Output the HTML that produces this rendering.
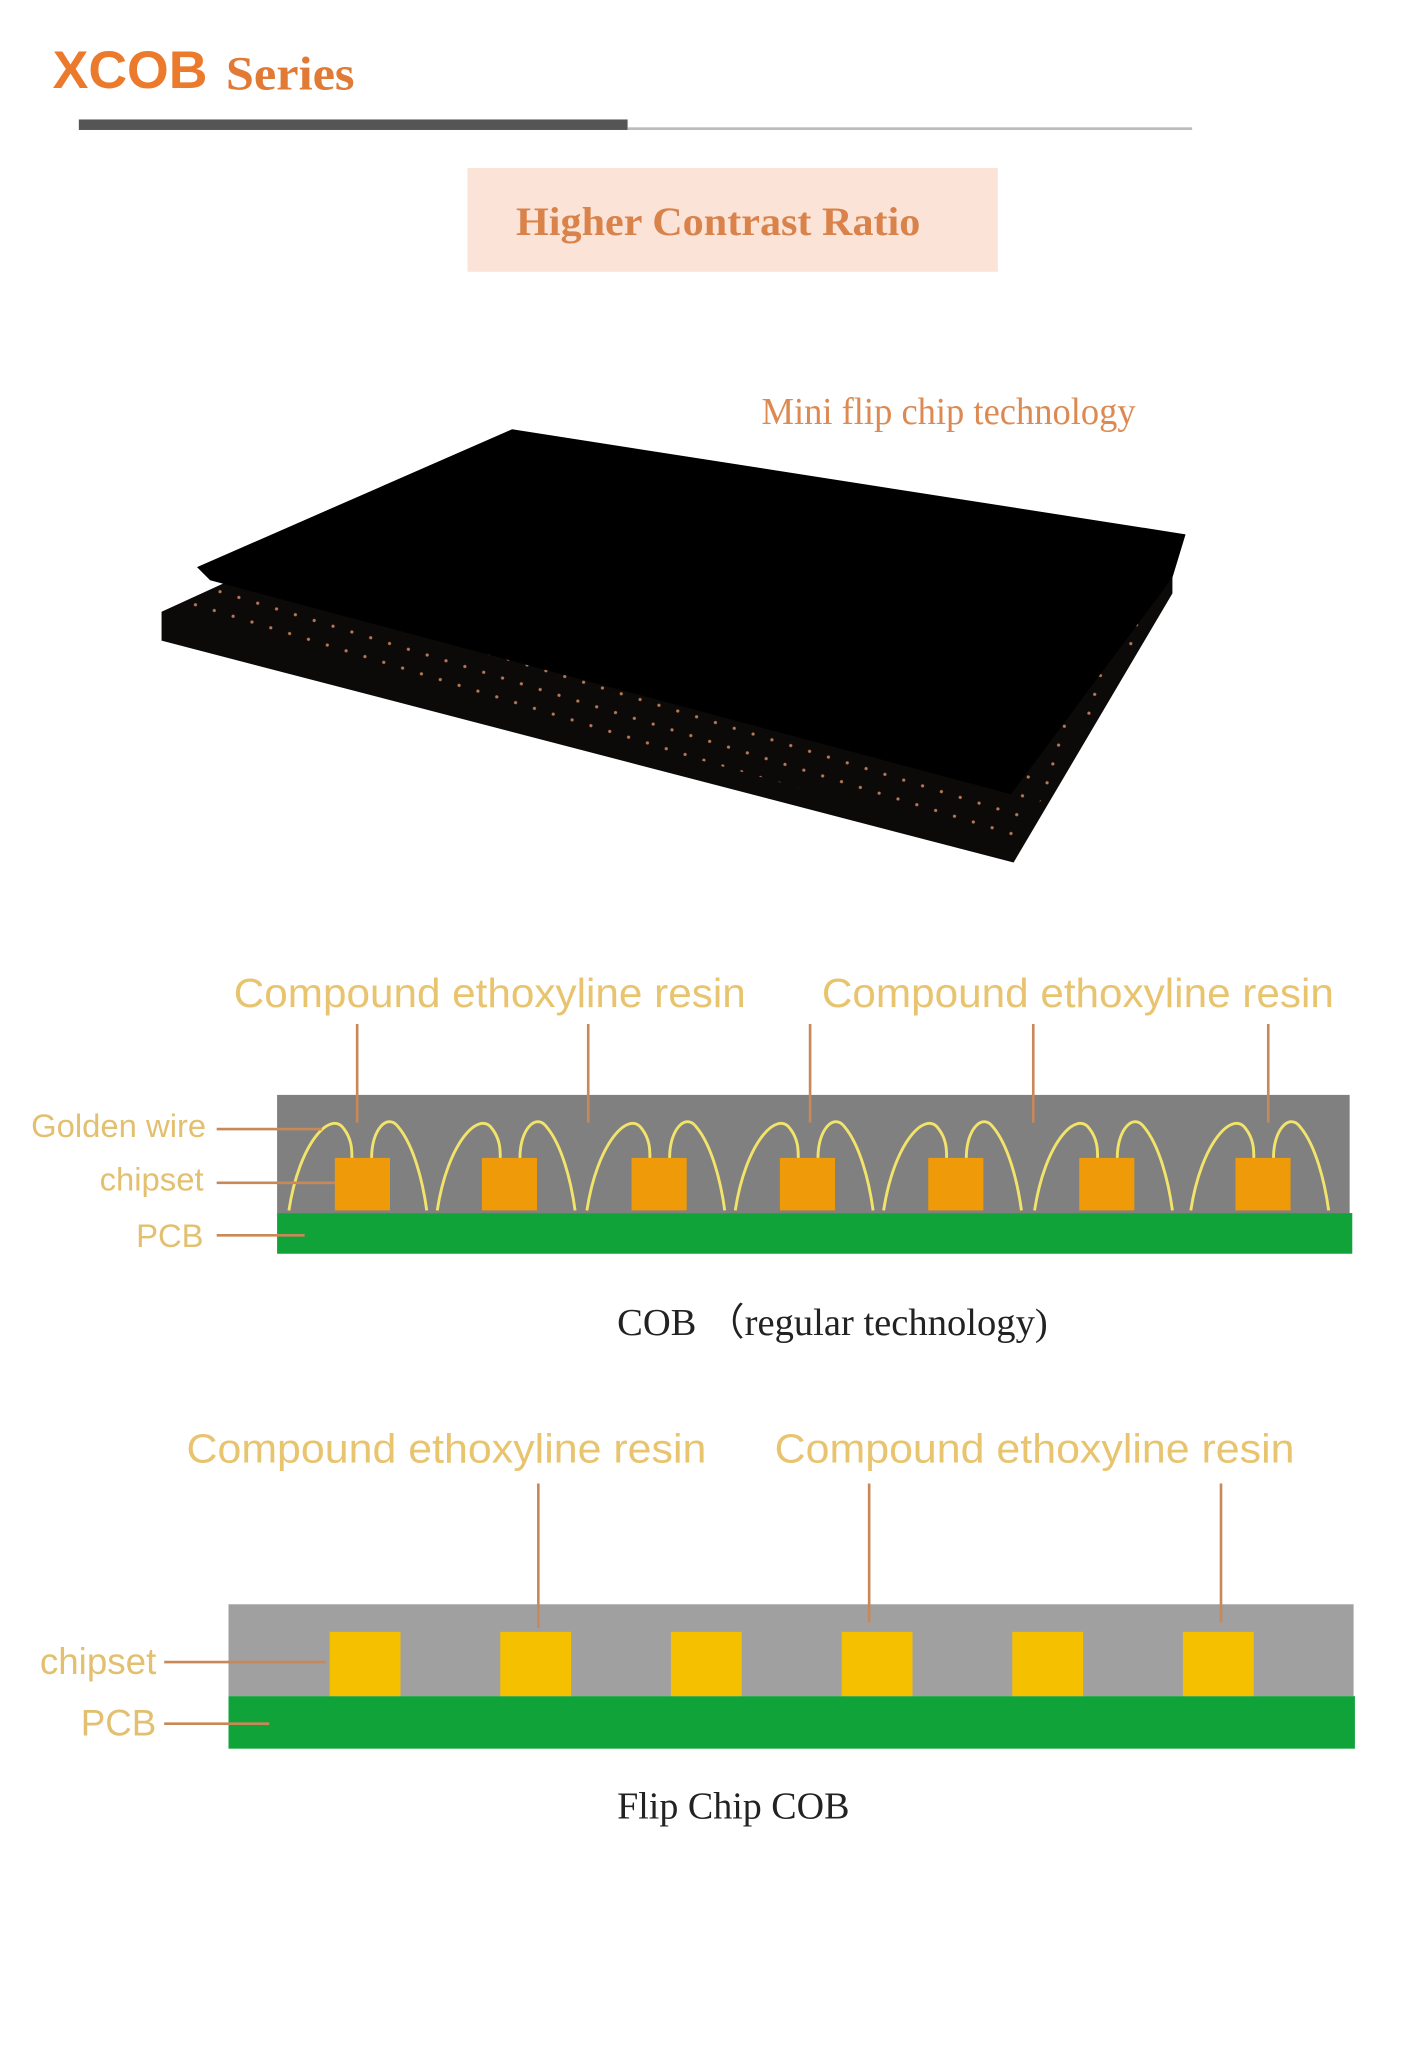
<!DOCTYPE html>
<html><head><meta charset="utf-8"><style>html,body{margin:0;padding:0;background:#fff}svg{display:block}</style></head>
<body>
<svg width="1418" height="2048" viewBox="0 0 1080 1560" xmlns="http://www.w3.org/2000/svg">
<defs>
<pattern id="dots" width="15" height="15" patternUnits="userSpaceOnUse" patternTransform="rotate(17)">
<circle cx="7" cy="7" r="1.2" fill="#b87a55"/>
</pattern>
</defs>
<rect width="1080" height="1560" fill="#fff"/>
<text x="40" y="67" font-family="Liberation Sans, sans-serif" font-weight="bold" font-size="40" fill="#ec7a2c" textLength="118" lengthAdjust="spacingAndGlyphs">XCOB</text>
<text x="172" y="68" font-family="Liberation Serif, serif" font-weight="bold" font-size="36" fill="#e07a35" textLength="98" lengthAdjust="spacingAndGlyphs">Series</text>
<rect x="60" y="91" width="418" height="8" fill="#555"/>
<rect x="478" y="97" width="430" height="2" fill="#bbb"/>
<rect x="356" y="128" width="404" height="79" fill="#fbe3d7"/>
<text x="393" y="179" font-family="Liberation Serif, serif" font-weight="bold" font-size="31" fill="#d9834b" textLength="308" lengthAdjust="spacingAndGlyphs">Higher Contrast Ratio</text>
<text x="580" y="323" font-family="Liberation Serif, serif" font-size="29" fill="#dc8a52" textLength="285" lengthAdjust="spacingAndGlyphs">Mini flip chip technology</text>
<!-- panel -->
<polygon points="123,466 372,352 893,440 893,452 772,657 123,488" fill="#0c0909"/>
<polygon points="123,466 372,352 893,440 772,645" fill="url(#dots)"/>
<polygon points="150,432 390,327 903,407 893,440 770,605 160,442" fill="#000"/>
<!-- COB regular -->
<g font-family="Liberation Sans, sans-serif" font-size="31" fill="#e9c46f">
<text x="178" y="767" textLength="390" lengthAdjust="spacingAndGlyphs">Compound ethoxyline resin</text>
<text x="626" y="767" textLength="390" lengthAdjust="spacingAndGlyphs">Compound ethoxyline resin</text>
<text x="157" y="866" text-anchor="end" font-size="25" fill="#e2c070">Golden wire</text>
<text x="155" y="907" text-anchor="end" font-size="25" fill="#e2c070">chipset</text>
<text x="155" y="950" text-anchor="end" font-size="25" fill="#e2c070">PCB</text>
</g>
<rect x="211" y="834" width="817" height="90" fill="#808080"/>
<rect x="211" y="924" width="819" height="31" fill="#10a33a"/>
<g fill="#ef9a08">
<rect x="255" y="882" width="42" height="40"/><rect x="367" y="882" width="42" height="40"/><rect x="481" y="882" width="42" height="40"/><rect x="594" y="882" width="42" height="40"/><rect x="707" y="882" width="42" height="40"/><rect x="822" y="882" width="42" height="40"/><rect x="941" y="882" width="42" height="40"/>
</g>
<g fill="none" stroke="#f2e46a" stroke-width="2.2">
<path id="w" d="M220,922 C228,870 252,845 262,860 C268,868 268,876 268,882 M283,882 C283,860 295,848 303,858 C315,872 322,900 325,922"/>
<use href="#w" x="113"/><use href="#w" x="227"/><use href="#w" x="340"/><use href="#w" x="453"/><use href="#w" x="568"/><use href="#w" x="687"/>
</g>
<g stroke="#c98858" stroke-width="2">
<line x1="272" y1="780" x2="272" y2="855"/><line x1="448" y1="780" x2="448" y2="855"/><line x1="617" y1="780" x2="617" y2="855"/><line x1="787" y1="780" x2="787" y2="855"/><line x1="966" y1="780" x2="966" y2="855"/>
<line x1="165" y1="860" x2="245" y2="860"/><line x1="165" y1="901" x2="255" y2="901"/><line x1="165" y1="941" x2="232" y2="941"/>
</g>
<text x="470" y="1017" font-family="Liberation Serif, serif" font-size="29" fill="#222" textLength="328" lengthAdjust="spacingAndGlyphs">COB （regular technology)</text>
<!-- flip chip -->
<g font-family="Liberation Sans, sans-serif" font-size="31" fill="#e9c46f">
<text x="142" y="1114" textLength="396" lengthAdjust="spacingAndGlyphs">Compound ethoxyline resin</text>
<text x="590" y="1114" textLength="396" lengthAdjust="spacingAndGlyphs">Compound ethoxyline resin</text>
<text x="119" y="1275" text-anchor="end" font-size="28" fill="#e2c070">chipset</text>
<text x="119" y="1322" text-anchor="end" font-size="28" fill="#e2c070">PCB</text>
</g>
<rect x="174" y="1222" width="857" height="70" fill="#a0a0a0"/>
<rect x="174" y="1292" width="858" height="40" fill="#10a33a"/>
<g fill="#f5c000">
<rect x="251" y="1243" width="54" height="49"/><rect x="381" y="1243" width="54" height="49"/><rect x="511" y="1243" width="54" height="49"/><rect x="641" y="1243" width="54" height="49"/><rect x="771" y="1243" width="54" height="49"/><rect x="901" y="1243" width="54" height="49"/>
</g>
<g stroke="#c98858" stroke-width="2">
<line x1="410" y1="1130" x2="410" y2="1240"/><line x1="662" y1="1130" x2="662" y2="1236"/><line x1="930" y1="1130" x2="930" y2="1236"/>
<line x1="125" y1="1266" x2="248" y2="1266"/><line x1="125" y1="1313" x2="205" y2="1313"/>
</g>
<text x="470" y="1385" font-family="Liberation Serif, serif" font-size="29" fill="#222" textLength="177" lengthAdjust="spacingAndGlyphs">Flip Chip COB</text>
</svg>
</body></html>
